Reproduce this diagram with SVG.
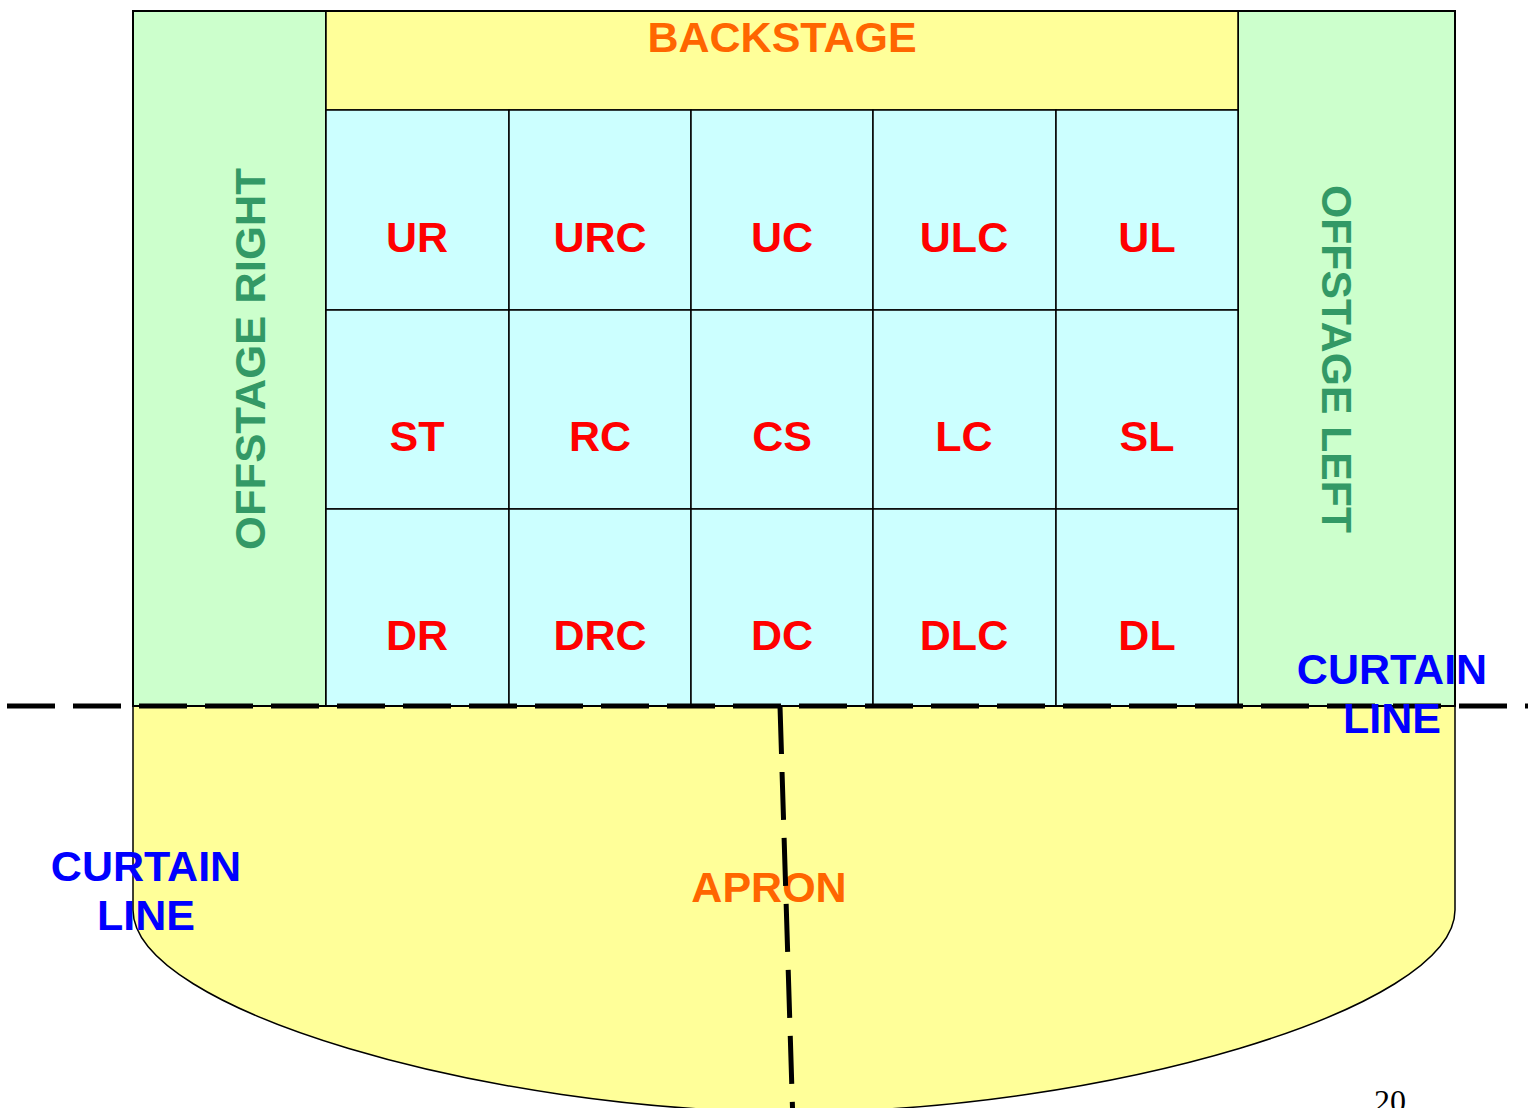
<svg xmlns="http://www.w3.org/2000/svg" width="1533" height="1108" viewBox="0 0 1533 1108">
<style>
.lbl{font-family:"Liberation Sans",Arial,sans-serif;font-weight:bold;font-size:43px;text-anchor:middle}
.red{fill:#FF0000}
.org{fill:#FF6600}
.grn{fill:#339966}
.blu{fill:#0000FF}
.cell{fill:#CCFFFF;stroke:#000;stroke-width:1.5}
.dash{fill:none;stroke:#000;stroke-width:5;stroke-dasharray:48 18}
</style>
<rect width="1533" height="1108" fill="#fff"/>
<g id="apron">
<path d="M133,706 V910 C133,1010 488,1112 794,1112 C1100,1112 1455,1010 1455,910 V706 Z" fill="#FFFF99" stroke="#000" stroke-width="1.5"/>
<text class="lbl org" x="769" y="902">APRON</text>
</g>
<g id="offstage-right">
<rect x="133" y="11" width="193" height="695" fill="#CCFFCC" stroke="#000" stroke-width="2"/>
<text class="lbl grn" font-size="46" transform="translate(265,359) rotate(-90)" textLength="382" lengthAdjust="spacingAndGlyphs">OFFSTAGE RIGHT</text>
</g>
<g id="offstage-left">
<rect x="1238" y="11" width="217" height="695" fill="#CCFFCC" stroke="#000" stroke-width="2"/>
<text class="lbl grn" font-size="44" transform="translate(1322,359) rotate(90)" textLength="348" lengthAdjust="spacingAndGlyphs">OFFSTAGE LEFT</text>
</g>
<g id="backstage">
<rect x="326" y="11" width="912" height="99" fill="#FFFF99" stroke="#000" stroke-width="1.5"/>
<text class="lbl org" x="782" y="52">BACKSTAGE</text>
</g>
<g id="UR"><rect class="cell" x="326" y="110" width="183" height="200"/><text class="lbl red" x="417" y="252">UR</text></g>
<g id="URC"><rect class="cell" x="509" y="110" width="182" height="200"/><text class="lbl red" x="600" y="252">URC</text></g>
<g id="UC"><rect class="cell" x="691" y="110" width="182" height="200"/><text class="lbl red" x="782" y="252">UC</text></g>
<g id="ULC"><rect class="cell" x="873" y="110" width="183" height="200"/><text class="lbl red" x="964" y="252">ULC</text></g>
<g id="UL"><rect class="cell" x="1056" y="110" width="182" height="200"/><text class="lbl red" x="1147" y="252">UL</text></g>
<g id="ST"><rect class="cell" x="326" y="310" width="183" height="199"/><text class="lbl red" x="417" y="451">ST</text></g>
<g id="RC"><rect class="cell" x="509" y="310" width="182" height="199"/><text class="lbl red" x="600" y="451">RC</text></g>
<g id="CS"><rect class="cell" x="691" y="310" width="182" height="199"/><text class="lbl red" x="782" y="451">CS</text></g>
<g id="LC"><rect class="cell" x="873" y="310" width="183" height="199"/><text class="lbl red" x="964" y="451">LC</text></g>
<g id="SL"><rect class="cell" x="1056" y="310" width="182" height="199"/><text class="lbl red" x="1147" y="451">SL</text></g>
<g id="DR"><rect class="cell" x="326" y="509" width="183" height="197"/><text class="lbl red" x="417" y="650">DR</text></g>
<g id="DRC"><rect class="cell" x="509" y="509" width="182" height="197"/><text class="lbl red" x="600" y="650">DRC</text></g>
<g id="DC"><rect class="cell" x="691" y="509" width="182" height="197"/><text class="lbl red" x="782" y="650">DC</text></g>
<g id="DLC"><rect class="cell" x="873" y="509" width="183" height="197"/><text class="lbl red" x="964" y="650">DLC</text></g>
<g id="DL"><rect class="cell" x="1056" y="509" width="182" height="197"/><text class="lbl red" x="1147" y="650">DL</text></g>
<rect x="133" y="11" width="1322" height="695" fill="none" stroke="#000" stroke-width="2"/>
<g id="connectors">
<line class="dash" x1="7" y1="706" x2="1528" y2="706"/>
<line class="dash" x1="780" y1="706" x2="792.5" y2="1108"/>
</g>
<g id="curtain-line-right">
<text class="lbl blu" x="1392" y="684">CURTAIN</text>
<text class="lbl blu" x="1392" y="733">LINE</text>
</g>
<g id="curtain-line-left">
<text class="lbl blu" x="146" y="881">CURTAIN</text>
<text class="lbl blu" x="146" y="930">LINE</text>
</g>
<text x="1390" y="1112" font-family="Liberation Serif,'Times New Roman',serif" font-size="32" text-anchor="middle" fill="#000">20</text>
</svg>
